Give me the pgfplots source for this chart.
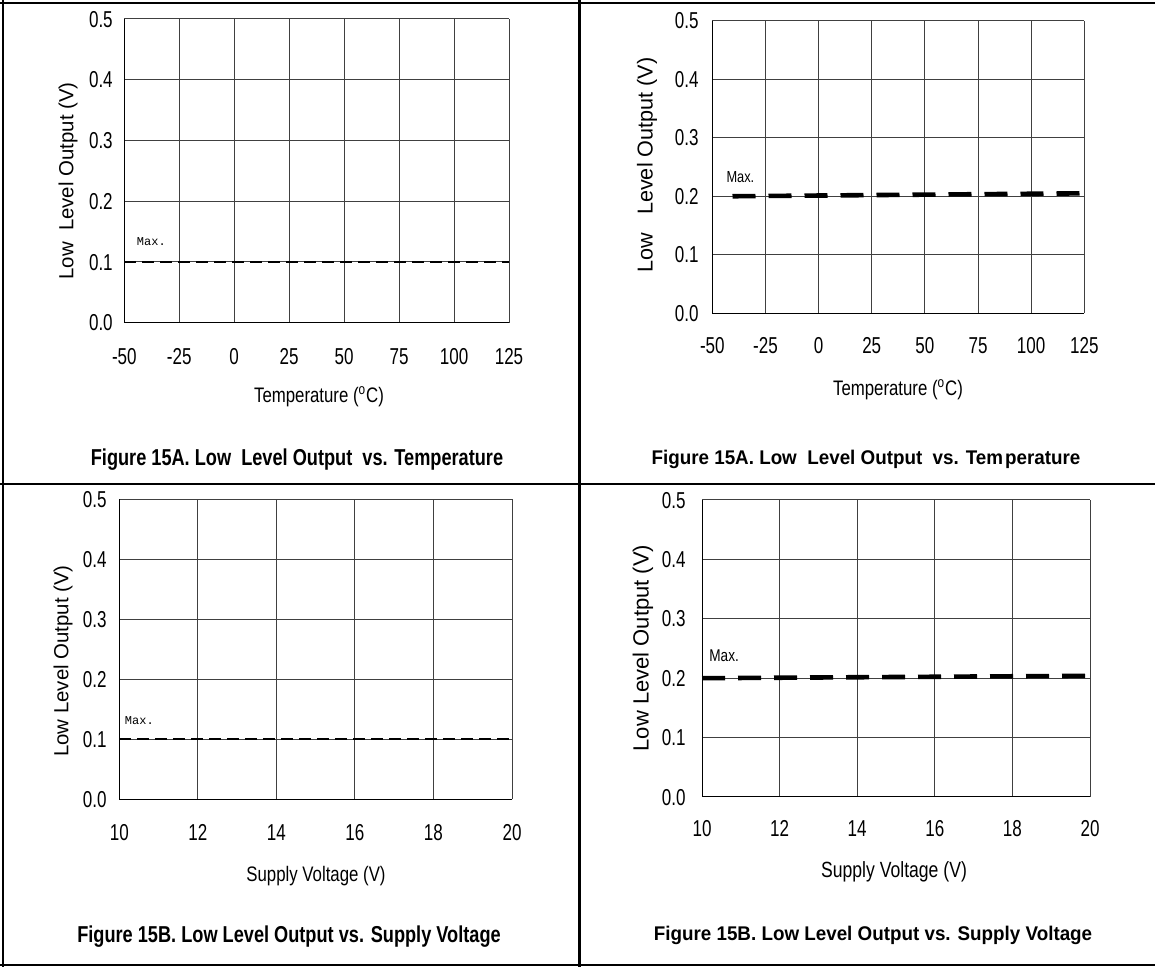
\documentclass[border=0pt]{standalone}
\usepackage{fontspec}
\setmainfont{Liberation Sans}
\setmonofont{Liberation Mono}
\newfontfamily\nar{Liberation Sans}[FakeStretch=0.8]
\newfontfamily\narT{Liberation Sans}[FakeStretch=0.74]
\newfontfamily\narB{Liberation Sans Bold}[FakeStretch=0.79]
\newfontfamily\arialB{Liberation Sans Bold}[FakeStretch=0.95]
\newfontfamily\arial{Liberation Sans}
\usepackage{pgfplots}
\pgfplotsset{compat=1.18}
\pgfplotsset{panel/.style={
  scale only axis, anchor=south west,
  axis x line=bottom, axis y line=left,
  axis line style={-, black, line width=0.5pt},
  grid=major, grid style={black!75, line width=0.5pt},
  major tick length=0pt,
  ymin=0, ymax=0.5, ytick={0,0.1,0.2,0.3,0.4,0.5},
  yticklabels={0.0,0.1,0.2,0.3,0.4,0.5},
  tick label style={font=\narT\fontsize{11.5}{13}\selectfont, inner sep=0pt,
    text height=8.2pt, text depth=0pt},
  xticklabel style={anchor=center},
  yticklabel style={anchor=east},
  clip=false}}
\begin{document}
\begin{tikzpicture}
\path[use as bounding box] (0,0) rectangle (577.5pt,483.5pt);
\begin{scope}[shift={(0pt,483.5pt)}, x=0.5pt, y=-0.5pt]
\draw[line width=1.2pt] (0,3) -- (1155,3);
\draw[line width=1.2pt] (3,0) -- (3,967);
\draw[line width=1.2pt] (0,965) -- (1155,965);
\draw[line width=1.2pt] (579.5,0) -- (579.5,967);
\draw[line width=1.2pt] (0,484) -- (1155,484);
% panel 1 texts
\node[rotate=90, font=\arial\fontsize{10.2}{12}\selectfont] at (68,181) {Low\ \ Level Output (V)};
\node[font=\nar\fontsize{10.5}{12}\selectfont] at (319,397) {Temperature (\textsuperscript{o}C)};
\node[font=\narB\fontsize{11.5}{13}\selectfont] at (297,460) {Figure 15A. Low\ \ Level Output\ \ vs. Temperature};
% panel 2 texts
\node[rotate=90, font=\arial\fontsize{10.8}{12}\selectfont] at (647,165) {Low\ \ \ Level Output (V)};
\node[font=\nar\fontsize{10.5}{12}\selectfont] at (898,390) {Temperature (\textsuperscript{o}C)};
\node[font=\arialB\fontsize{9.9}{12}\selectfont] at (866,459) {Figure 15A. Low\ \ Level Output\ \ vs. Tem\kern1pt perature};
% panel 3 texts
\node[rotate=90, font=\arial\fontsize{10.2}{12}\selectfont] at (63,661) {Low Level Output (V)};
\node[font=\nar\fontsize{10.5}{12}\selectfont] at (316,876) {Supply Voltage (V)};
\node[font=\narB\fontsize{11.5}{13}\selectfont] at (289,937) {Figure 15B. Low Level Output vs. Supply Voltage};
% panel 4 texts
\node[rotate=90, font=\arial\fontsize{11}{12}\selectfont] at (643,648) {Low Level Output (V)};
\node[font=\nar\fontsize{11}{12}\selectfont] at (894,872) {Supply Voltage (V)};
\node[font=\arialB\fontsize{9.9}{12}\selectfont] at (873,935) {Figure 15B. Low Level Output vs. Supply Voltage};
\end{scope}

% Panel 1
\begin{axis}[panel, at={(62.15pt,322.15pt)}, width=192.35pt, height=151.85pt,
  xmin=-50, xmax=125, xtick={-50,-25,0,25,50,75,100,125},
  xticklabels={-50,-25,0,25,50,75,100,125},
  xticklabel style={yshift=-16.65pt}, yticklabel style={xshift=-5.6pt}]
\addplot[black, line width=1pt, dash pattern=on 6pt off 3pt] coordinates {(-50,0.1) (125,0.1)};
\node[font=\ttfamily\fontsize{6}{7}\selectfont] at (axis cs:-37.7,0.134) {Max.};
\end{axis}

% Panel 2
\begin{axis}[panel, at={(356.15pt,326.85pt)}, width=186pt, height=146.3pt,
  xmin=-50, xmax=125, xtick={-50,-25,0,25,50,75,100,125},
  xticklabels={-50,-25,0,25,50,75,100,125},
  xticklabel style={yshift=-15.85pt}, yticklabel style={xshift=-6.65pt}]
\addplot[black, line width=2.3pt, dash pattern=on 11.5pt off 6.5pt] coordinates {(-40.5,0.200) (125,0.205)};
\node[font=\nar\fontsize{8}{9}\selectfont] at (axis cs:-36.8,0.233) {Max.};
\end{axis}

% Panel 3
\begin{axis}[panel, at={(59.65pt,83.85pt)}, width=196.35pt, height=150pt,
  xmin=10, xmax=20, xtick={10,12,14,16,18,20},
  xticklabels={10,12,14,16,18,20},
  xticklabel style={yshift=-16.35pt}, yticklabel style={xshift=-6.15pt}]
\addplot[black, line width=1pt, dash pattern=on 6pt off 3pt] coordinates {(10,0.1) (20,0.1)};
\node[font=\ttfamily\fontsize{6}{7}\selectfont] at (axis cs:10.51,0.131) {Max.};
\end{axis}

% Panel 4
\begin{axis}[panel, at={(351pt,85pt)}, width=194pt, height=148.5pt,
  xmin=10, xmax=20, xtick={10,12,14,16,18,20},
  xticklabels={10,12,14,16,18,20},
  xticklabel style={yshift=-15.5pt}, yticklabel style={xshift=-8pt}]
\addplot[black, line width=2.3pt, dash pattern=on 11.5pt off 6.5pt] coordinates {(10,0.200) (20,0.204)};
\node[font=\nar\fontsize{8.5}{9}\selectfont] at (axis cs:10.57,0.237) {Max.};
\end{axis}
\end{tikzpicture}
\end{document}
